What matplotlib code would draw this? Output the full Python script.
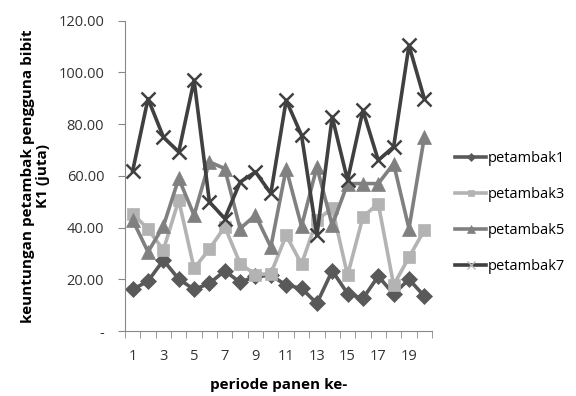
import numpy as np
import matplotlib
matplotlib.use("Agg")
import matplotlib.pyplot as plt
from matplotlib.ticker import FuncFormatter, MultipleLocator

# data
periode = list(range(1, 21))
petambak1 = [16.1, 19.3, 27.4, 20.1, 16.1, 18.4, 23.3, 18.8, 21.2, 21.5,
             17.8, 16.5, 10.7, 23.3, 14.5, 12.6, 21.2, 14.3, 20.0, 13.5]
petambak3 = [45.4, 39.4, 31.3, 50.6, 24.2, 31.7, 40.3, 26.1, 21.8, 22.2,
             37.0, 25.9, 42.9, 47.5, 21.6, 44.1, 49.3, 17.8, 28.5, 39.0]
petambak5 = [42.9, 30.6, 40.5, 59.0, 44.8, 65.4, 62.8, 39.6, 44.8, 32.5,
             62.8, 40.5, 63.4, 40.9, 57.0, 57.0, 57.0, 64.7, 39.6, 75.0]
petambak7 = [61.9, 89.8, 75.0, 69.2, 96.9, 49.9, 43.5, 57.6, 61.5, 53.2,
             89.2, 75.7, 37.0, 82.7, 58.3, 85.3, 66.0, 71.2, 110.4, 89.8]

series = [
    ("petambak1", petambak1, "#595959", "D", 8),
    ("petambak3", petambak3, "#b3b3b3", "s", 9),
    ("petambak5", petambak5, "#808080", "^", 10),
    ("petambak7", petambak7, "#404040", "x", 10),
]

plt.rcParams['font.family'] = ['Open Sans', 'DejaVu Sans']

fig = plt.figure(figsize=(5.76, 3.96), dpi=100)
ax = fig.add_axes([0.217, 0.164, 0.533, 0.784])

for name, vals, col, mk, ms in series:
    ax.plot(periode, vals, color=col, lw=2.6, marker=mk, markersize=ms,
            markeredgewidth=1.8 if mk == "x" else 0.5, markeredgecolor=col,
            label=name)

ax.set_xlim(0.5, 20.5)
ax.set_ylim(0, 120)
ax.set_xticks(range(1, 21, 2))
ax.set_xticks(np.arange(0.5, 21, 1), minor=True)
ax.tick_params(axis="x", which="major", length=0, pad=13)
ax.tick_params(axis="x", which="minor", length=5, color="#888888", direction="out")
ax.yaxis.set_major_locator(MultipleLocator(20))
ax.yaxis.set_major_formatter(FuncFormatter(lambda v, p: "-" if v == 0 else "%.2f" % v))
ax.tick_params(axis="y", length=5, color="#888888", direction="out", pad=10)
ax.tick_params(labelsize=10.5, labelcolor="#333333")

for s in ["top", "right"]:
    ax.spines[s].set_visible(False)
for s in ["left", "bottom"]:
    ax.spines[s].set_color("#888888")

ax.set_xlabel("periode panen ke-", fontsize=11, fontweight="bold", labelpad=10)
ax.set_ylabel("keuntungan petambak pengguna bibit\nK1 (juta)", fontsize=11,
              fontweight="bold", labelpad=6, linespacing=1.05,
              multialignment="center")

leg = fig.legend(loc="center left", bbox_to_anchor=(0.768, 0.463), frameon=False,
                 fontsize=10.5, handlelength=2.1, handletextpad=0.1, labelspacing=1.45,
                 markerscale=0.55)
xh = leg.legend_handles[3]
xh.set_markeredgecolor("#b8b8b8")
xh.set_markeredgewidth(1.0)

fig.savefig("out.png", dpi=100)
